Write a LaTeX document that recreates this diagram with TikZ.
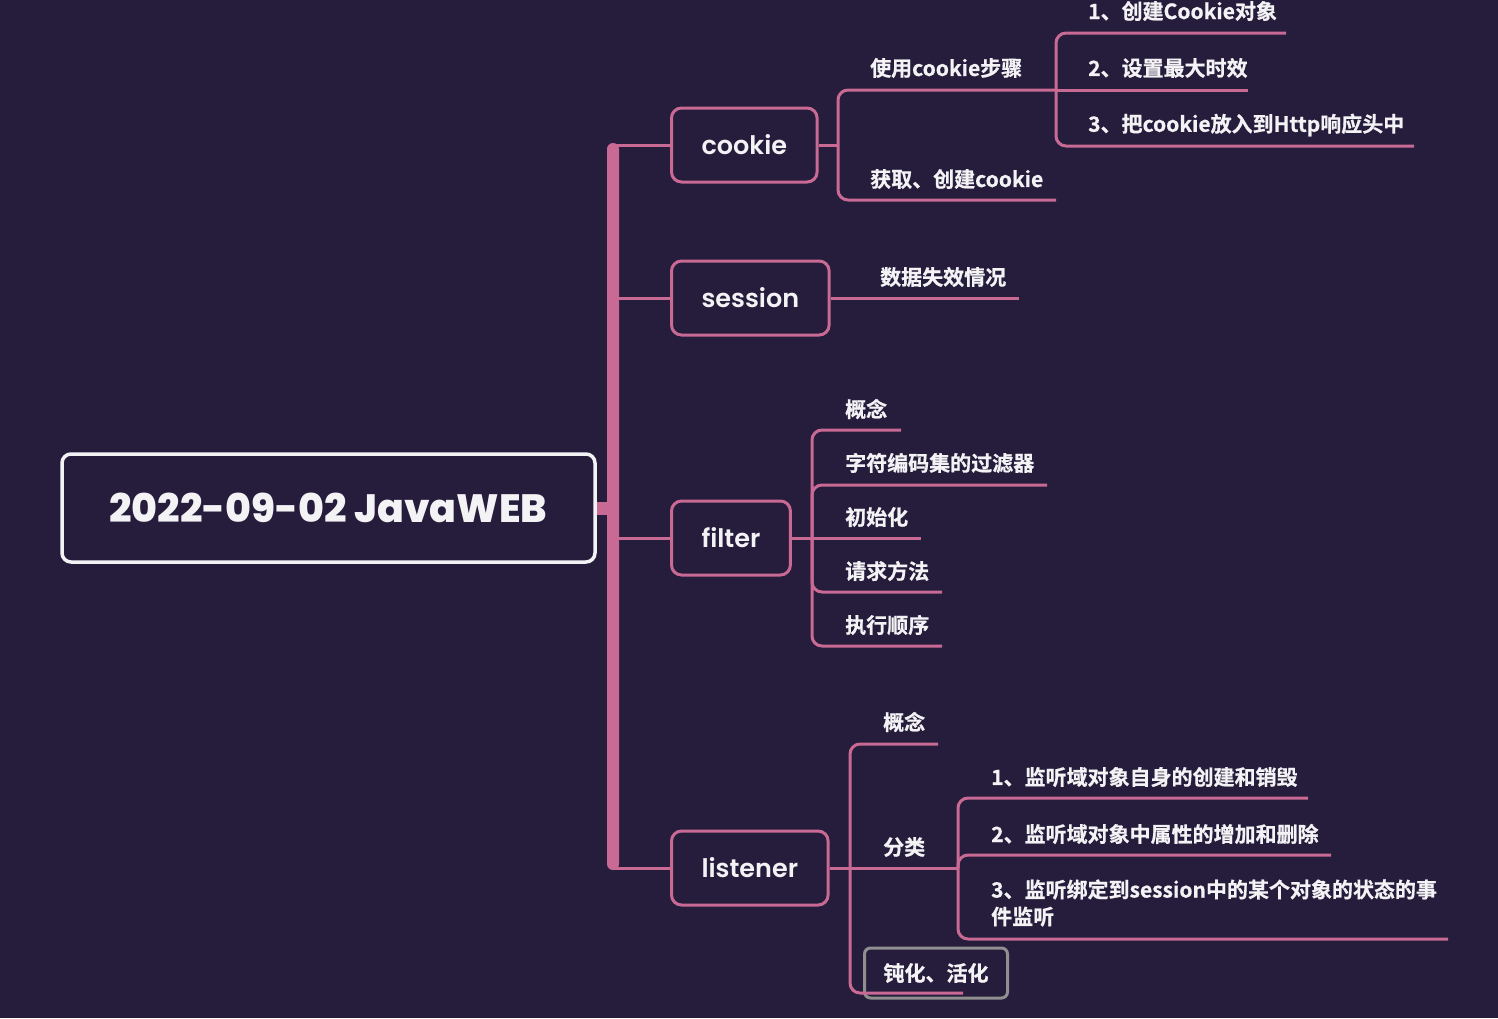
\documentclass[tikz,border=0pt]{standalone}
\usepackage{fontspec}
\usetikzlibrary{positioning}
\newfontfamily\cjkfont{Noto Sans CJK SC Bold}[FakeBold=0.7]
\newfontfamily\boxfont{Poppins SemiBold}
\newfontfamily\rootfont{Poppins ExtraBold}
\definecolor{bgpurple}{HTML}{261C3B}
\definecolor{mapink}{HTML}{C86A93}
\definecolor{textwhite}{HTML}{F3F2F5}
\definecolor{boxgray}{HTML}{8F8F8F}

\begin{document}
\begin{tikzpicture}[x=1pt, y=-1pt,
    rootbox/.style={draw=textwhite, line width=3.5pt, rounded corners=9pt, minimum width=533pt, minimum height=108pt, text=textwhite, font=\rootfont\fontsize{39.5}{46}\selectfont},
    topic/.style={draw=mapink, line width=3pt, rounded corners=10pt, minimum height=74pt, inner xsep=30pt, anchor=west, text=textwhite, font=\boxfont\fontsize{25.5}{30}\selectfont},
    sub/.style={anchor=west, inner sep=0pt, text=textwhite, font=\cjkfont\fontsize{21}{27}\selectfont},
    link/.style={draw=mapink, line width=3pt, rounded corners=10pt},
    spinebar/.style={fill=mapink, rounded corners=6pt, minimum width=12pt, inner sep=0pt}
]
\fill[bgpurple] (0,0) rectangle (1498,1018);
\useasboundingbox (0,0) rectangle (1498,1018);

% Root and main trunk
\node[rootbox] (root) at (328.5,508) {2022-09-02 JavaWEB};
\node[spinebar, minimum height=727pt] (spine) at (613,506.5) {};
\draw[mapink, line width=13pt] (root.east) -- (root.east -| spine.center);

% First level topics
\node[topic] (cookie) at (670,145) {cookie};
\node[topic] (session) at (670,298) {session};
\node[topic] (filter) at (670,538) {filter};
\node[topic] (listener) at (670,868) {listener};
\foreach \t in {cookie, session, filter, listener}
  \draw[link] (\t.west -| spine.center) -- (\t.west);

% cookie branch
\coordinate (ck-j) at (838,145);
\coordinate (steps-u) at (1056,90);
\coordinate (get-u) at (1056,200);
\node[sub] (steps) at (870,68) {使用cookie步骤};
\node[sub] (get) at (870,179) {获取、创建cookie};
\draw[link] (cookie.east) -- (ck-j);
\draw[link] (steps-u) -| (ck-j) |- (get-u);

% cookie steps
\coordinate (s1-u) at (1286,33);
\coordinate (s2-u) at (1248,90);
\coordinate (s3-u) at (1414,146);
\node[sub] (s1) at (1088,11) {1、创建Cookie对象};
\node[sub] (s2) at (1088,68) {2、设置最大时效};
\node[sub] (s3) at (1088,125) {3、把cookie放入到Http响应头中};
\draw[link] (s1-u) -| (steps-u) |- (s3-u);
\draw[link] (steps-u) -- (s2-u);

% session branch
\coordinate (lost-u) at (1019,298);
\node[sub] (lost) at (880,277) {数据失效情况};
\draw[link] (session.east) -- (lost-u);

% filter branch
\coordinate (fi-j) at (812,538);
\coordinate (f1-u) at (901,430);
\coordinate (f2-u) at (1047,485);
\coordinate (f3-u) at (921,538);
\coordinate (f4-u) at (942,592);
\coordinate (f5-u) at (942,646);
\node[sub] (f1) at (845,409) {概念};
\node[sub] (f2) at (845,463) {字符编码集的过滤器};
\node[sub] (f3) at (845,517) {初始化};
\node[sub] (f4) at (845,571) {请求方法};
\node[sub] (f5) at (845,625) {执行顺序};
\draw[link] (f1-u) -| (fi-j) |- (f5-u);
\draw[link] (fi-j) |- (f2-u);
\draw[link] (fi-j) |- (f4-u);
\draw[link] (filter.east) -- (f3-u);

% listener branch
\coordinate (li-j) at (850,868);
\coordinate (l1-u) at (938,744);
\coordinate (cat-u) at (958,868);
\coordinate (pa-u) at (963,993);
\node[sub] (l1) at (883,722) {概念};
\node[sub] (cat) at (883,847) {分类};
\node[sub, anchor=center, draw=boxgray, line width=3pt, rounded corners=6pt, minimum height=50pt, inner xsep=19pt] (passiv) at (936,973) {钝化、活化};
\draw[link] (l1-u) -| (li-j) |- (pa-u);
\draw[link] (listener.east) -- (cat-u);

% listener categories
\coordinate (k1-u) at (1308,798);
\coordinate (k2-u) at (1331,855);
\coordinate (k3-u) at (1448,939);
\node[sub] (k1) at (991,777) {1、监听域对象自身的创建和销毁};
\node[sub] (k2) at (991,834) {2、监听域对象中属性的增加和删除};
\node[sub, align=left] (k3) at (991,903) {3、监听绑定到session中的某个对象的状态的事\\件监听};
\draw[link] (k1-u) -| (cat-u) |- (k3-u);
\draw[link] (cat-u) |- (k2-u);

\end{tikzpicture}
\end{document}
